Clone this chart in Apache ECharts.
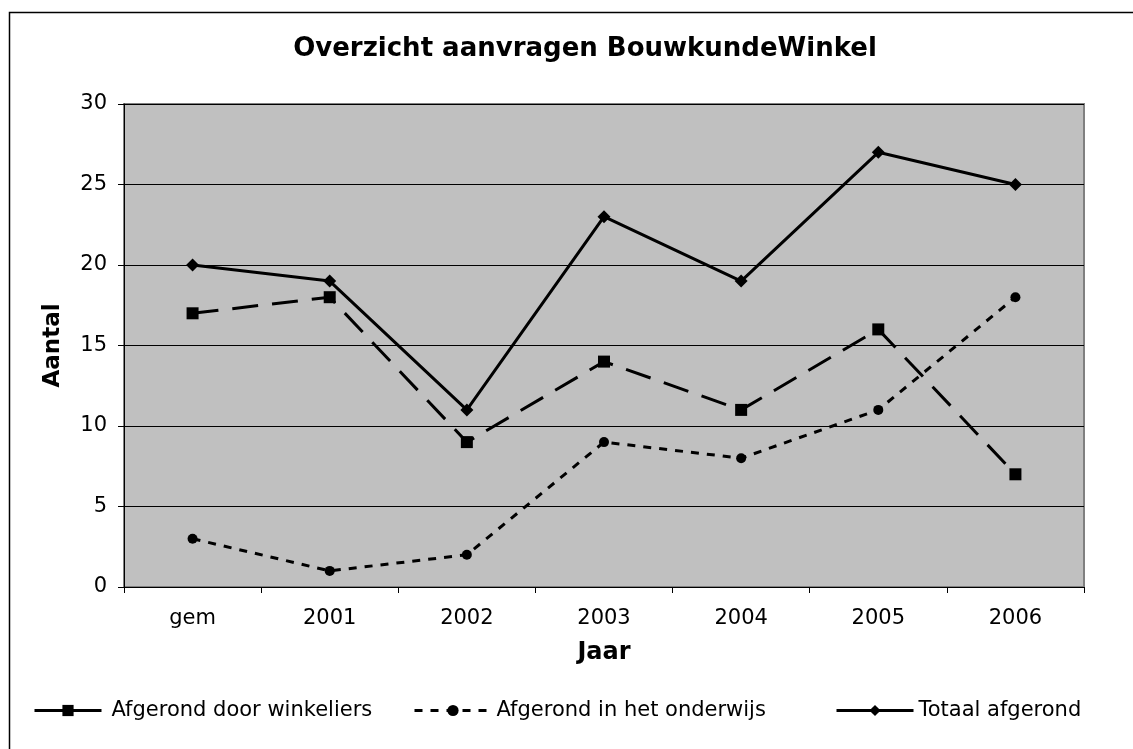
<!DOCTYPE html>
<html>
<head>
<meta charset="utf-8">
<script src="https://cdn.jsdelivr.net/npm/echarts@6/dist/echarts.min.js"></script>
<style>
  html, body { margin: 0; padding: 0; background: #fff; }
  #chart { width: 1133px; height: 749px; }
</style>
</head>
<body>
<div id="chart"></div>
<script>
const chartDom = document.getElementById("chart");
const chart = echarts.init(chartDom, null, { renderer: "canvas" });

const categories = ["gem", "2001", "2002", "2003", "2004", "2005", "2006"];
const winkeliers = [17, 18, 9, 14, 11, 16, 7];
const onderwijs = [3, 1, 2, 9, 8, 11, 18];
const totaal = [20, 19, 11, 23, 19, 27, 25];
const yTicks = [0, 5, 10, 15, 20, 25, 30];

const font = "DejaVu Sans";

// one legend per series so each item sits where it does in the original
function legendItem(name, left, width, lineType, textPad) {
  return {
    data: [name],
    left: left,
    top: 700,
    padding: 0,
    itemWidth: width,
    itemHeight: 14,
    lineStyle: { width: 3, type: lineType },
    textStyle: { fontFamily: font, fontSize: 21, color: "#000", padding: [0, 0, 0, textPad] },
  };
}

const option = {
  backgroundColor: "#fff",
  animation: false,
  textStyle: { fontFamily: font },
  title: {
    text: "Overzicht aanvragen BouwkundeWinkel",
    left: 580,
    top: 31,
    textAlign: "center",
    textStyle: { fontFamily: font, fontSize: 26, fontWeight: "bold", color: "#000" },
  },
  graphic: [
    {
      type: "rect",
      left: 7,
      top: 10,
      shape: { width: 1140, height: 760 },
      style: { fill: null, stroke: "#000", lineWidth: 1.5 },
      silent: true,
    },
  ],
  legend: [
    legendItem("Afgerond door winkeliers", 33, 67, "solid", 5),
    legendItem("Afgerond in het onderwijs", 413, 77, [8, 8], 0),
    legendItem("Totaal afgerond", 835, 77, "solid", 0),
  ],
  grid: {
    left: 124,
    right: 49,
    top: 104,
    bottom: 162,
    show: true,
    backgroundColor: "#c0c0c0",
    borderColor: "#808080",
    borderWidth: 2,
  },
  xAxis: {
    type: "category",
    data: categories,
    boundaryGap: true,
    name: "Jaar",
    nameLocation: "middle",
    nameGap: 54,
    nameTextStyle: { fontFamily: font, fontSize: 24, fontWeight: "bold", color: "#000" },
    axisLine: { show: true, lineStyle: { color: "#000", width: 1 } },
    axisTick: { show: true, alignWithLabel: false, length: 6, lineStyle: { color: "#000" } },
    axisLabel: { fontFamily: font, fontSize: 21, color: "#000", margin: 21 },
  },
  yAxis: {
    type: "value",
    min: 0,
    max: 30,
    interval: 5,
    name: "Aantal",
    nameLocation: "middle",
    nameGap: 59,
    nameRotate: 90,
    nameTextStyle: { fontFamily: font, fontSize: 23, fontWeight: "bold", color: "#000" },
    axisLine: { show: true, lineStyle: { color: "#000", width: 1 } },
    axisTick: { show: true, length: 6, lineStyle: { color: "#000" } },
    axisLabel: {
      fontFamily: font,
      fontSize: 21,
      color: "#000",
      margin: 17,
      formatter: (v) => (yTicks.includes(v) ? String(v) : ""),
    },
    splitLine: { show: true, lineStyle: { color: "#000", width: 1 } },
  },
  series: [
    {
      name: "Afgerond door winkeliers",
      type: "line",
      data: winkeliers,
      symbol: "rect",
      symbolSize: 12,
      color: "#000",
      lineStyle: { color: "#000", width: 3, type: [26, 14] },
      itemStyle: { color: "#000" },
      z: 3,
    },
    {
      name: "Afgerond in het onderwijs",
      type: "line",
      data: onderwijs,
      symbol: "circle",
      symbolSize: 10,
      color: "#000",
      lineStyle: { color: "#000", width: 3, type: [8, 8] },
      itemStyle: { color: "#000" },
      z: 3,
    },
    {
      name: "Totaal afgerond",
      type: "line",
      data: totaal,
      symbol: "diamond",
      symbolSize: 13,
      color: "#000",
      lineStyle: { color: "#000", width: 3, type: "solid" },
      itemStyle: { color: "#000" },
      z: 4,
    },
  ],
};

chart.setOption(option);

window.addEventListener("resize", function () {
  chart.resize();
});
</script>
</body>
</html>
